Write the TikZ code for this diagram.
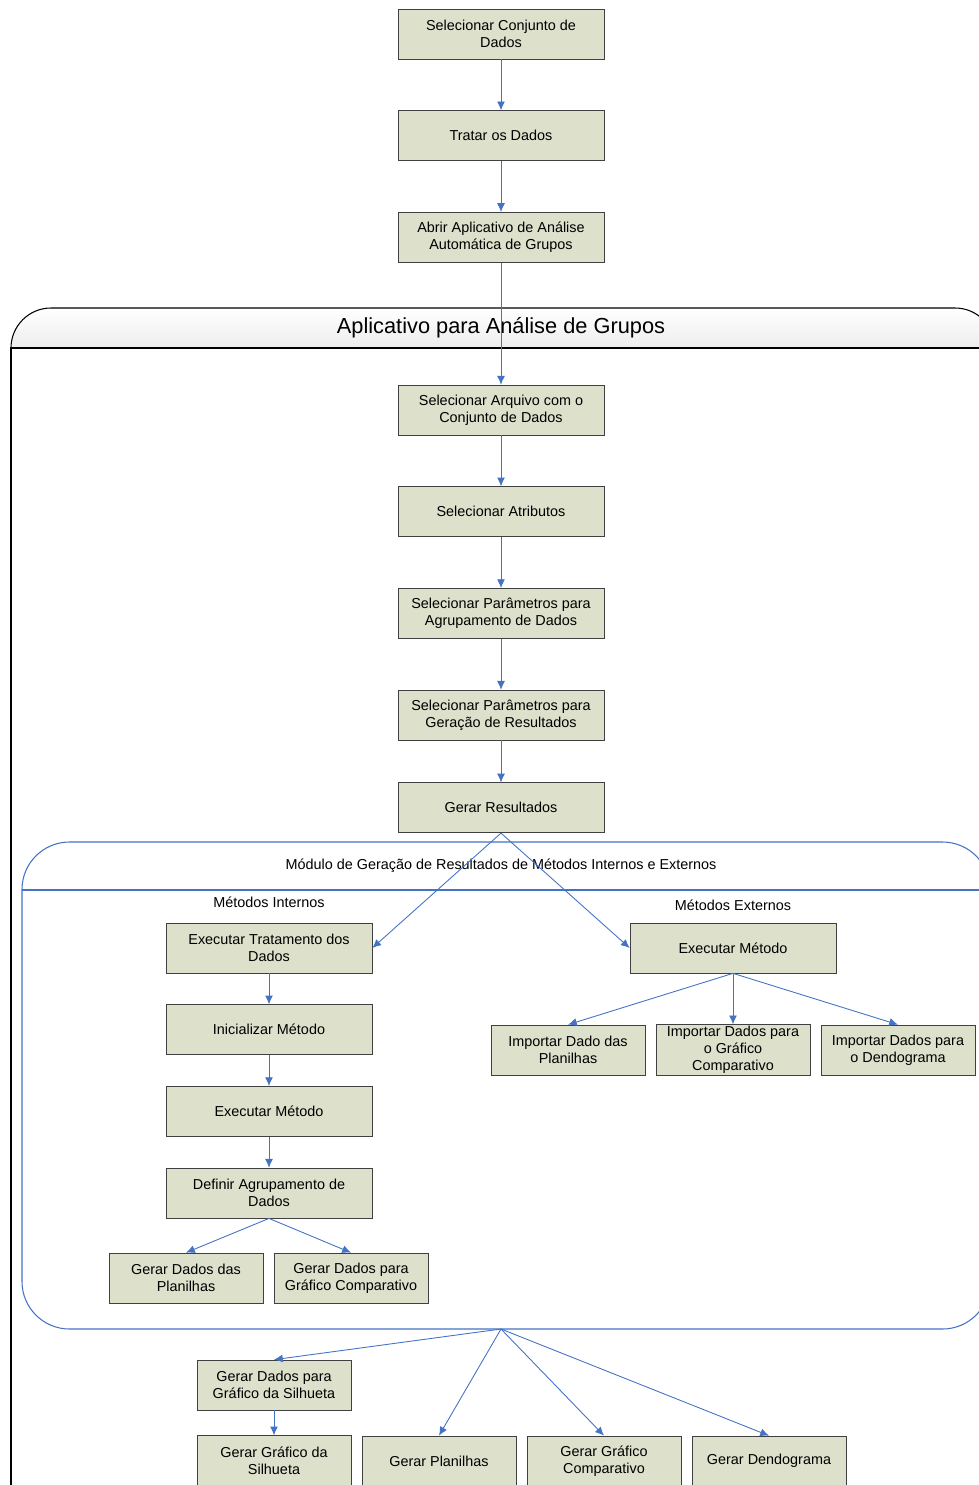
\documentclass[tikz,border=0pt]{standalone}
\usepackage{fontspec}
\setmainfont{Liberation Sans}
\usepackage{tikz}
\usetikzlibrary{positioning,arrows.meta}
\definecolor{boxfill}{HTML}{DDE0CB}
\definecolor{linkblue}{HTML}{4472C4}

\begin{document}
\begin{tikzpicture}[x=0.02cm, y=-0.02cm,
    main/.style = {draw=black!75, fill=boxfill, minimum width=4.12cm, minimum height=1cm, align=center, inner sep=1pt, font=\fontsize{8.2}{9.6}\selectfont},
    small/.style = {main, minimum width=3.08cm},
    link/.style = {draw=linkblue, line width=0.5pt, -{Latex[length=5pt,width=4.5pt]}},
    lbl/.style = {font=\fontsize{8.2}{9.6}\selectfont},
    node distance = 1.02cm]
    \useasboundingbox (0,0) rectangle (979,1485);

    \draw[line width=0.6pt, top color=white, bottom color=black!7] (11,348) [rounded corners=0.8cm] -- (11,308) -- (995,308) [sharp corners] -- (995,348) -- cycle;
    \draw[line width=0.6pt] (11,1520) -- (11,348) -- (995,348) -- (995,1520);
    \node[font=\fontsize{12.4}{14}\selectfont] (app) at (501,328) {Aplicativo para Análise de Grupos};

    \draw[linkblue, line width=0.6pt, rounded corners=0.95cm] (22,1100) -- (22,842) -- (990,842) -- (990,1329) -- (22,1329) -- cycle;
    \draw[linkblue, line width=0.6pt] (22,890) -- (990,890);
    \node[lbl] (mod) at (501,866) {Módulo de Geração de Resultados de Métodos Internos e Externos};
    \node[lbl] (int) at (269,902) {Métodos Internos};
    \node[lbl] (ext) at (733,905) {Métodos Externos};
    \coordinate (modbot) at (501,1329);

    \node[main] (b1) at (501,34) {Selecionar Conjunto de\\Dados};
    \node[main] (b2) [below = of b1] {Tratar os Dados};
    \node[main] (b3) [below = of b2] {Abrir Aplicativo de Análise\\Automática de Grupos};
    \node[main] (b4) [below = 2.44cm of b3] {Selecionar Arquivo com o\\Conjunto de Dados};
    \node[main] (b5) [below = of b4] {Selecionar Atributos};
    \node[main] (b6) [below = of b5] {Selecionar Parâmetros para\\Agrupamento de Dados};
    \node[main] (b7) [below = of b6] {Selecionar Parâmetros para\\Geração de Resultados};
    \node[main] (b8) [below = 0.84cm of b7] {Gerar Resultados};

    \node[main] (l1) at (269,948) {Executar Tratamento dos\\Dados};
    \node[main] (l2) [below = 0.62cm of l1] {Inicializar Método};
    \node[main] (l3) [below = 0.62cm of l2] {Executar Método};
    \node[main] (l4) [below = 0.62cm of l3] {Definir Agrupamento de\\Dados};
    \node[small] (l5) at (186,1278) {Gerar Dados das\\Planilhas};
    \node[small] (l6) at (351,1278) {Gerar Dados para\\Gráfico Comparativo};

    \node[main] (r1) at (733,948) {Executar Método};
    \node[small] (r2) at (568,1050) {Importar Dado das\\Planilhas};
    \node[small] (r3) at (733,1050) {Importar Dados para\\o Gráfico\\Comparativo};
    \node[small] (r4) at (898,1050) {Importar Dados para\\o Dendograma};

    \node[small] (g1) at (274,1385) {Gerar Dados para\\Gráfico da Silhueta};
    \node[small] (g2) [below = 0.5cm of g1] {Gerar Gráfico da\\Silhueta};
    \node[small] (g3) at (439,1461) {Gerar Planilhas};
    \node[small] (g4) at (604,1461) {Gerar Gráfico\\Comparativo};
    \node[small] (g5) at (769,1461) {Gerar Dendograma};

    \draw[link] (b1) -- (b2);
    \draw[link] (b2) -- (b3);
    \draw[link] (b3) -- (b4);
    \draw[link] (b4) -- (b5);
    \draw[link] (b5) -- (b6);
    \draw[link] (b6) -- (b7);
    \draw[link] (b7) -- (b8);
    \draw[link] (b8.south) -- (l1.east);
    \draw[link] (b8.south) -- (r1.west);
    \draw[link] (l1) -- (l2);
    \draw[link] (l2) -- (l3);
    \draw[link] (l3) -- (l4);
    \draw[link] (l4.south) -- (l5.north);
    \draw[link] (l4.south) -- (l6.north);
    \draw[link] (r1.south) -- (r2.north);
    \draw[link] (r1.south) -- (r3.north);
    \draw[link] (r1.south) -- (r4.north);
    \draw[link] (modbot) -- (g1.north);
    \draw[link] (modbot) -- (g3.north);
    \draw[link] (modbot) -- (g4.north);
    \draw[link] (modbot) -- (g5.north);
    \draw[link] (g1) -- (g2);
\end{tikzpicture}
\end{document}
